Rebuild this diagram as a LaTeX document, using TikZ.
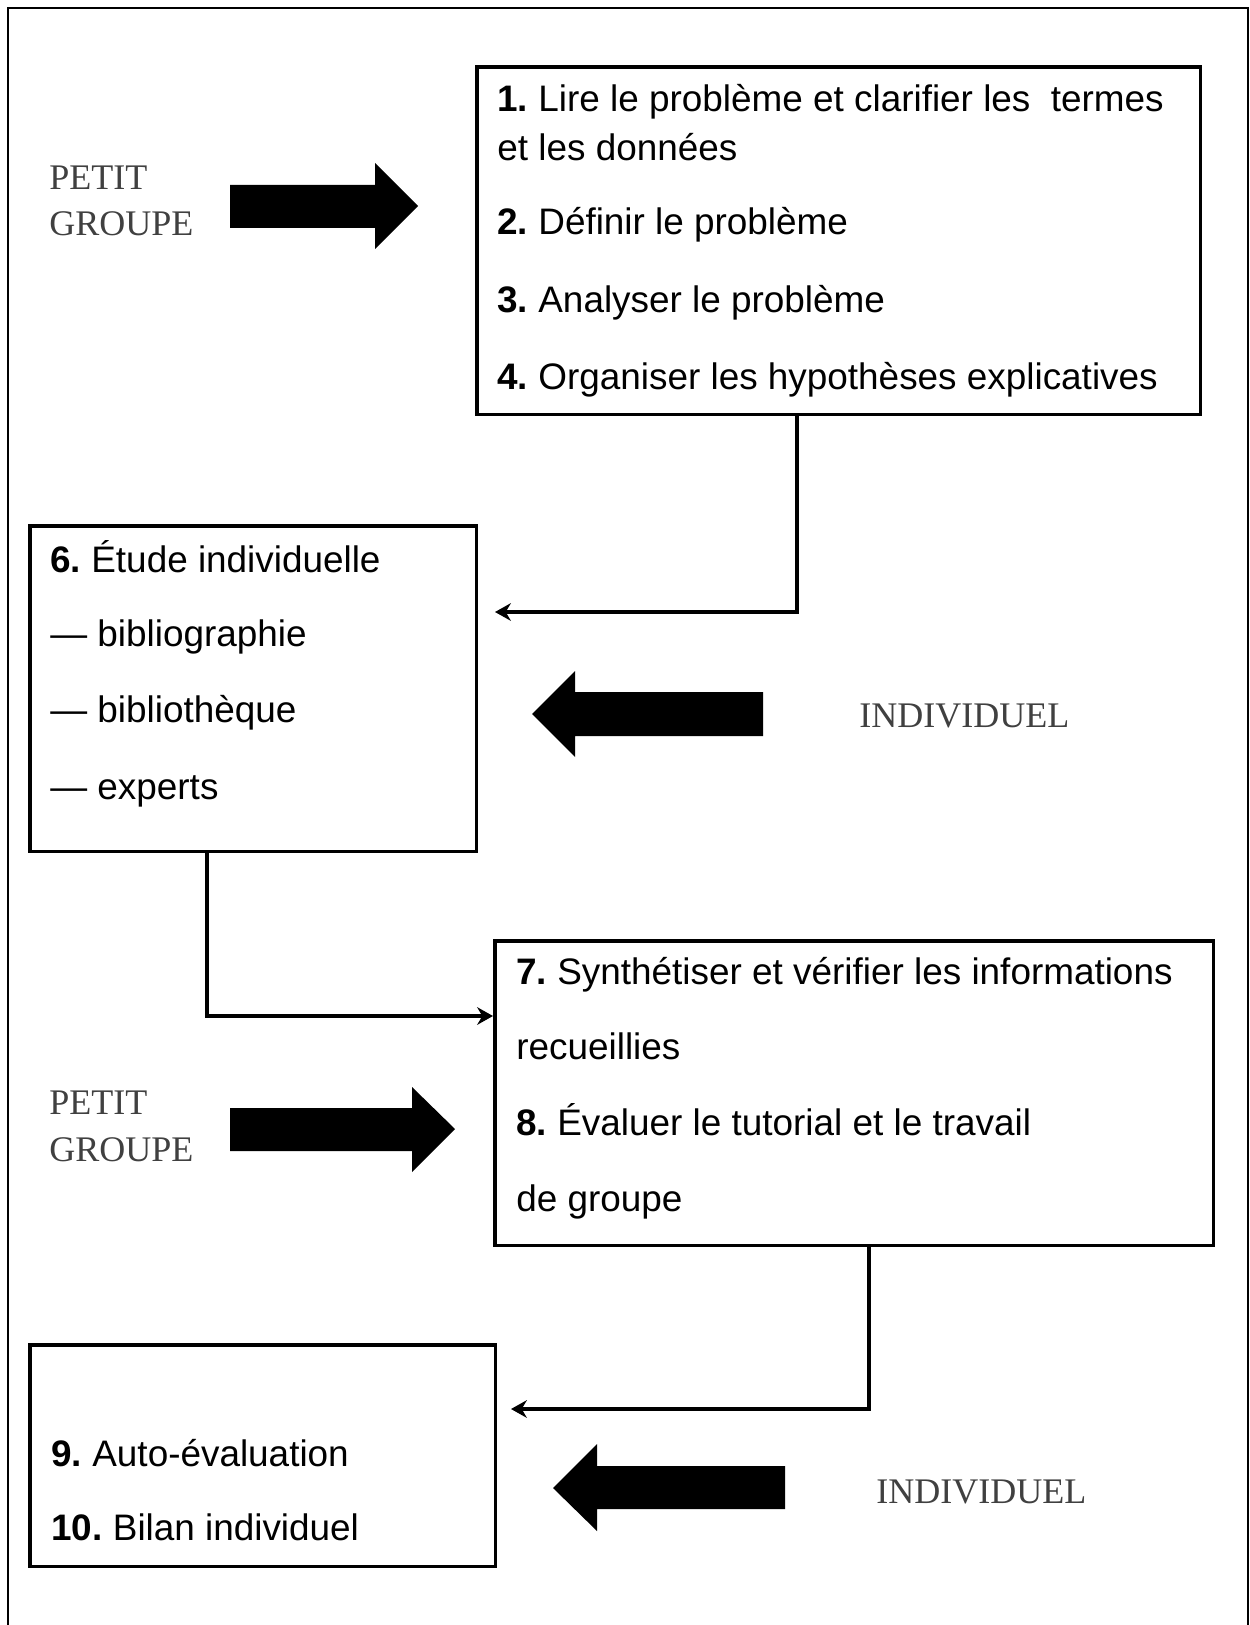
\documentclass[tikz,border=0pt]{standalone}
\usepackage{fontspec}
\setmainfont{Liberation Sans}
\newfontfamily\labelfont{Liberation Serif}
\usepackage{tikz}
\usetikzlibrary{calc,positioning,arrows.meta}
\frenchspacing

\begin{document}
\begin{tikzpicture}[x=0.02cm,y=-0.02cm,
		box/.style={draw, line width=2pt, inner sep=0pt, anchor=north west},
		txt/.style={anchor=base west, inner sep=0pt, font=\fontsize{21}{25}\selectfont},
		grp/.style={anchor=base west, inner sep=0pt, text=black!75, font=\labelfont\fontsize{20.5}{24}\selectfont},
		link/.style={line width=1.9pt, -{Stealth[length=9pt,width=10pt]}},
		bigarrow/.style={fill=black}]
		\useasboundingbox (0,0) rectangle (1250,1625);
		\draw[line width=1.2pt] (8,1625) -- (8,8) -- (1248,8) -- (1248,1625);

		% boxes
		\node[box, minimum width=14.48cm, minimum height=6.96cm] (box1) at (475,65) {};
		\node[box, minimum width=8.94cm, minimum height=6.52cm] (box6) at (28,524) {};
		\node[box, minimum width=14.38cm, minimum height=6.1cm] (box7) at (493,939) {};
		\node[box, minimum width=9.32cm, minimum height=4.44cm] (box9) at (28,1343) {};

		\node[txt] (t1) at (497,112) {\textbf{1.} Lire le problème et clarifier les\ \ termes};
		\node[txt] (t1b) at (497,161) {et les données};
		\node[txt] (t2) at (497,235) {\textbf{2.} Définir le problème};
		\node[txt] (t3) at (497,313) {\textbf{3.} Analyser le problème};
		\node[txt] (t4) at (497,389) {\textbf{4.} Organiser les hypothèses explicatives};

		\node[txt] (t6) at (50,572) {\textbf{6.} Étude individuelle};
		\node[txt] (t6a) at (50,646) {— bibliographie};
		\node[txt] (t6b) at (50,722) {— bibliothèque};
		\node[txt] (t6c) at (50,799) {— experts};

		\node[txt] (t7) at (516,984) {\textbf{7.} Synthétiser et vérifier les informations};
		\node[txt] (t7b) at (516,1059) {recueillies};
		\node[txt] (t8) at (516,1135) {\textbf{8.} Évaluer le tutorial et le travail};
		\node[txt] (t8b) at (516,1211) {de groupe};

		\node[txt] (t9) at (51,1466) {\textbf{9.} Auto-évaluation};
		\node[txt] (t10) at (51,1540) {\textbf{10.} Bilan individuel};

		% side labels
		\node[grp] (pg1) at (49,190) {PETIT};
		\node[grp] (gr1) at (49,236) {GROUPE};
		\node[grp] (pg2) at (49,1114) {PETIT};
		\node[grp] (gr2) at (49,1161) {GROUPE};
		\node[grp] (ind1) at (859,727) {INDIVIDUEL};
		\node[grp] (ind2) at (876,1503) {INDIVIDUEL};

		% block arrows
		\fill[bigarrow] (230,185) -- (375,185) -- (375,163) -- (418,206) -- (375,249) -- (375,228) -- (230,228) -- cycle;
		\fill[bigarrow] (763,692) -- (575,692) -- (575,671) -- (532,714) -- (575,757) -- (575,736) -- (763,736) -- cycle;
		\fill[bigarrow] (230,1108) -- (412,1108) -- (412,1087) -- (455,1129) -- (412,1172) -- (412,1151) -- (230,1151) -- cycle;
		\fill[bigarrow] (785,1466) -- (597,1466) -- (597,1444) -- (553,1488) -- (597,1531) -- (597,1509) -- (785,1509) -- cycle;

		% connectors
		\coordinate (k1) at (797,612);
		\coordinate (e1) at (495,612);
		\draw[link] (box1.south -| k1) -- (k1) -- (e1);

		\coordinate (k2) at (207,1016);
		\draw[link] (box6.south -| k2) -- (k2) -- (k2 -| box7.west);

		\coordinate (k3) at (869,1409);
		\coordinate (e3) at (511,1409);
		\draw[link] (box7.south -| k3) -- (k3) -- (e3);
\end{tikzpicture}
\end{document}
